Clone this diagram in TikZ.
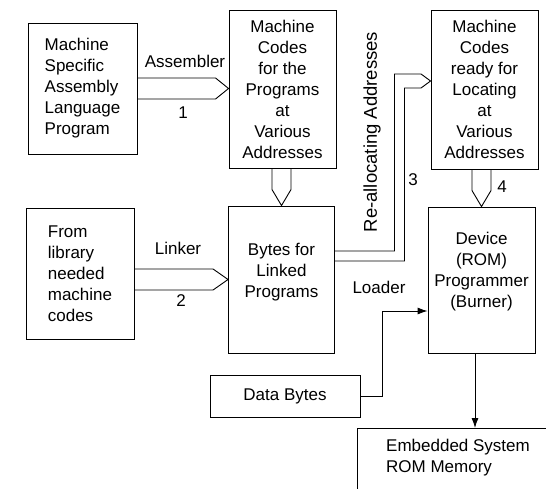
\documentclass[tikz,border=0pt]{standalone}
\usepackage{fontspec}
\setmainfont{Liberation Sans}
\usetikzlibrary{arrows.meta,calc}
\begin{document}
\begin{tikzpicture}[x=1pt,y=-1pt,
  every node/.style={font=\fontsize{17}{21}\selectfont, inner sep=0pt},
  box/.style={draw, line width=0.9pt, align=center},
  hollow/.style={line width=0.9pt, line join=miter},
  flow/.style={line width=0.9pt, -{Latex[length=10pt,width=7pt]}}]
\useasboundingbox (0,0) rectangle (546,489);
\fill[white] (0,0) rectangle (546,489);
\clip (0,0) rectangle (546,489);

% boxes
\node[box, align=left, minimum width=109pt, minimum height=131pt] (m1) at (82.5,88.5)
  {Machine\\Specific\\Assembly\\Language\\Program};
\node[box, minimum width=107pt, minimum height=158pt] (m2) at (282.5,89)
  {Machine\\Codes\\for the\\Programs\\at\\Various\\Addresses};
\node[box, minimum width=107pt, minimum height=159pt] (m3) at (484.5,89.5)
  {Machine\\Codes\\ready for\\Locating\\at\\Various\\Addresses};
\node[box, align=left, minimum width=108pt, minimum height=131pt] (m4) at (80,273.5)
  {From\\library\\needed\\machine\\codes};
\node[box, minimum width=106pt, minimum height=147pt] (m5) at (281.5,279.5) {};
\node[align=center] (m5t) at (281.5,272) {Bytes for\\Linked\\Programs};
\node[box, minimum width=107pt, minimum height=146pt] (m6) at (481.5,280) {};
\node[align=center] (m6t) at (481.5,272) {Device\\(ROM)\\Programmer\\(Burner)};
\node[box, minimum width=150pt, minimum height=42pt] (m7) at (285,396) {Data Bytes};
\node[box, anchor=north west, minimum width=250pt, minimum height=100pt] (m8) at (357,428) {};
\node[align=left, anchor=west] (m8t) at (386,458) {Embedded System\\ROM Memory};

% hollow arrow 1 (Assembler)
\draw[hollow] let \p1=(m2.west |- m1.east), \p2=(m1.east) in
  (\x2,\y1+10.5pt) -- (\x1-13pt,\y1+10.5pt) -- (\p1) -- (\x1-13pt,\y1-10.5pt) -- (\x2,\y1-10.5pt);
% hollow arrow 2 (Linker)
\draw[hollow] let \p1=(m5.west), \p2=(m4.east) in
  (\x2,\y1+10.5pt) -- (\x1-15pt,\y1+10.5pt) -- (\p1) -- (\x1-15pt,\y1-10.5pt) -- (\x2,\y1-10.5pt);
% hollow arrow m2 -> m5
\draw[hollow] let \p1=(m5.north), \p2=(m2.south) in
  (\x1-9.5pt,\y2) -- (\x1-9.5pt,\y1+16pt) -- (\p1) -- (\x1+9.5pt,\y1+16pt) -- (\x1+9.5pt,\y2);
% hollow arrow m3 -> m6 (4)
\draw[hollow] let \p1=(m6.north), \p2=(m3.south) in
  (\x1-9.5pt,\y2) -- (\x1-9.5pt,\y1+16pt) -- (\p1) -- (\x1+9.5pt,\y1+16pt) -- (\x1+9.5pt,\y2);
% hollow arrow 3 (Re-allocating)
\draw[hollow] let \p1=([yshift=8.5pt]m3.west), \p2=(m5.east) in
  (\x2,\y2+28.5pt) -- (\x2+59.5pt,\y2+28.5pt) -- (\x2+59.5pt,\y1+7pt) -- (\x1-9.5pt,\y1+7pt)
  -- (\p1) -- (\x1-9.5pt,\y1-7pt) -- (\x2+69.5pt,\y1-7pt) -- (\x2+69.5pt,\y2+18.5pt) -- (\x2,\y2+18.5pt);

% loader
\draw[flow] (m7.east) -- ++(22,0) |- (m6.west |- 0,311);
% to ROM
\draw[flow] let \p1=(m6.south), \p2=(m8.north) in (\x1-6.5pt,\y1) -- (\x1-6.5pt,\y2);

% labels
\node (lasm) at (185,61) {Assembler};
\node (l1) at (183,113) {1};
\node (llnk) at (178,248) {Linker};
\node (l2) at (181,301) {2};
\node (l3) at (413,180) {3};
\node (l4) at (502,187) {4};
\node (lld) at (379,287) {Loader};
\node[rotate=90, font=\fontsize{18.5}{22}\selectfont] (lre) at (372,132) {Re-allocating Addresses};
\end{tikzpicture}
\end{document}
